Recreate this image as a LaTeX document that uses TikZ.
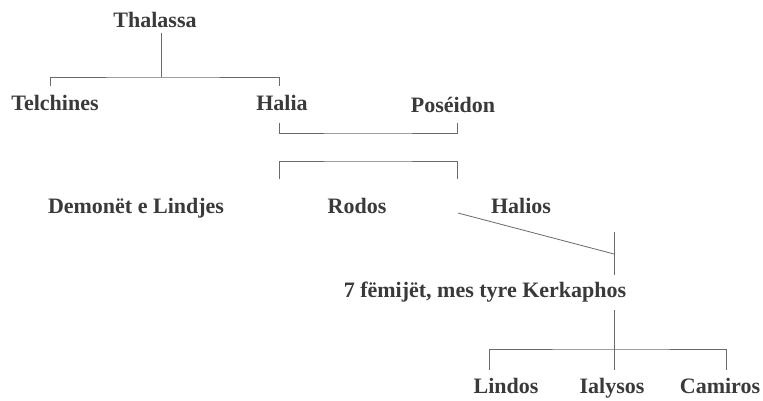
\documentclass[tikz,border=0pt]{standalone}
\usepackage{fontspec}
\setmainfont{Liberation Serif}
\definecolor{inkgrey}{HTML}{3A3A3A}
\definecolor{rulegrey}{HTML}{6A6A6A}
\tikzset{
  person/.style={anchor=base, inner sep=0pt, text=inkgrey,
    font=\fontsize{22}{26}\selectfont\bfseries},
  famline/.style={draw=rulegrey, line width=0.8pt}
}
\begin{document}
\begin{tikzpicture}[x=1pt,y=-1pt]
  % Frame
  \useasboundingbox[fill=white] (0,0) rectangle (763,401);

  % Names
  \node[person] (thalassa) at (155,28) {Thalassa};
  \node[person] (telchines) at (55,111) {Telchines};
  \node[person] (halia) at (282,111) {Halia};
  \node[person] (poseidon) at (453,113) {Poséidon};
  \node[person] (demonet) at (136,213) {Demonët e Lindjes};
  \node[person] (rodos) at (357,213) {Rodos};
  \node[person] (halios) at (521,213) {Halios};
  \node[person] (femijet) at (485,297) {7 fëmijët, mes tyre Kerkaphos};
  \node[person] (lindos) at (506,393) {Lindos};
  \node[person] (ialysos) at (612,393) {Ialysos};
  \node[person] (camiros) at (720,393) {Camiros};

  % Thalassa's children
  \coordinate (thaTop) at (161,33);
  \coordinate (thaMid) at (161,77);
  \coordinate (telTick) at (50,86);
  \coordinate (halTick) at (279,86);
  \draw[famline] (thaTop) -- (thaMid);
  \draw[famline] (telTick) |- (thaMid) -| (halTick);

  % Halia and Poseidon
  \coordinate (halDown) at (279,123);
  \coordinate (posDown) at (457,123);
  \coordinate (marriage) at (368,133);
  \draw[famline] (halDown) |- (marriage) -| (posDown);

  % their children
  \coordinate (kidsTop) at (368,161);
  \coordinate (halChild) at (279,179);
  \coordinate (posChild) at (457,179);
  \draw[famline] (halChild) |- (kidsTop) -| (posChild);

  % Rodos and Halios
  \coordinate (hlsStart) at (458,213);
  \coordinate (hlsEnd) at (614,254);
  \coordinate (hlsTop) at (614,232);
  \coordinate (hlsBot) at (614,275);
  \draw[famline] (hlsStart) -- (hlsEnd);
  \draw[famline] (hlsTop) -- (hlsBot);

  % the three sons
  \coordinate (kerTop) at (614,310);
  \coordinate (kerMid) at (614,349);
  \coordinate (linTick) at (489,370);
  \coordinate (ialTick) at (614,370);
  \coordinate (camTick) at (726,370);
  \draw[famline] (kerTop) -- (ialTick);
  \draw[famline] (linTick) |- (kerMid) -| (camTick);
\end{tikzpicture}
\end{document}
